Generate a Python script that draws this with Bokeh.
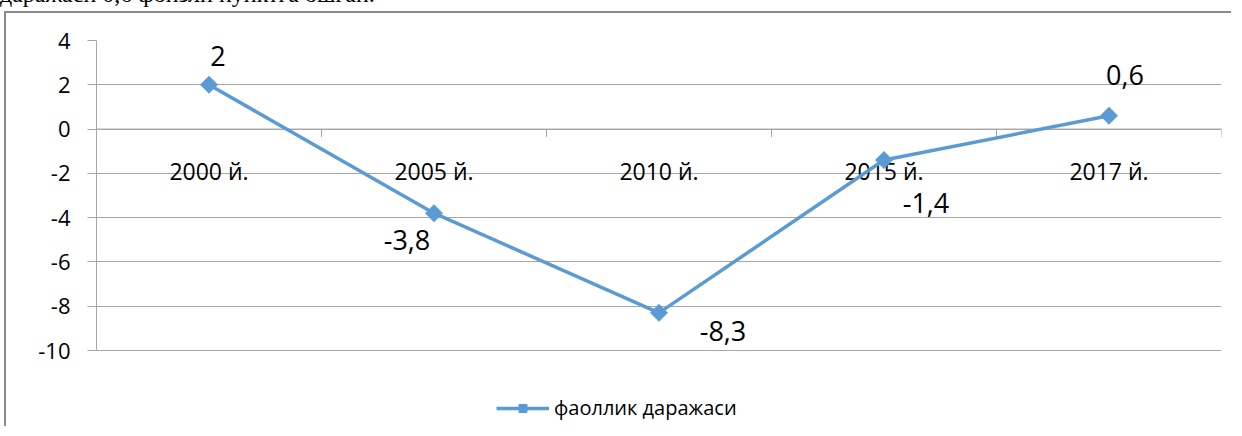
import math
from bokeh.plotting import figure
from bokeh.models import (Range1d, FixedTicker, Legend, LegendItem, Div, Column)
from bokeh.core.properties import value
from bokeh.embed import file_html
from bokeh.resources import INLINE

# ---- data ----
categories = ["2000 й.", "2005 й.", "2010 й.", "2015 й.", "2017 й."]
activity = [2.0, -3.8, -8.3, -1.4, 0.6]
value_labels = ["2", "-3,8", "-8,3", "-1,4", "0,6"]
y_ticks = [-10, -8, -6, -4, -2, 0, 2, 4]
series_name = "фаоллик даражаси"
top_text = "даражаси 0,6 фоизли пунктга ошган."

# ---- style ----
BLUE = "#5B9BD5"
GRID = "#A6A6A6"
FONT = "Open Sans"
label_dx = [9, -27, 64, 42, 16]
label_dy = [-29, 27, 18, 43, -41]

W, H = 1227, 415
FRAME_TOP = 27          # px from canvas top to the "4" gridline
PLOT_H = 310            # px between the "4" and "-10" gridlines
x_pos = [i + 0.5 for i in range(len(categories))]
ymin, ymax = min(y_ticks), max(y_ticks)
px_per_unit = PLOT_H / (ymax - ymin)
y_start = ymax - (H - FRAME_TOP) / px_per_unit

p = figure(width=W, height=H,
           x_range=Range1d(0, len(categories)), y_range=Range1d(y_start, ymax),
           output_backend="svg", toolbar_location=None,
           x_axis_location=None,
           min_border_left=90, min_border_right=12,
           min_border_top=FRAME_TOP, min_border_bottom=0,
           styles={"border-left": "2px solid #8a8a8a", "border-top": "2px solid #8a8a8a",
                   "margin-left": "4px"})
p.outline_line_color = None
p.background_fill_color = "white"
p.border_fill_color = "white"

# y axis
ax = p.yaxis[0]
ax.ticker = FixedTicker(ticks=y_ticks)
ax.bounds = (ymin, ymax)
ax.major_label_overrides = {t: str(t) for t in y_ticks}
ax.axis_line_color = GRID
ax.major_tick_line_color = GRID
ax.major_tick_out = 9
ax.major_tick_in = 0
ax.minor_tick_line_color = None
ax.major_label_standoff = 17
ax.major_label_text_font = FONT
ax.major_label_text_font_size = "22px"
ax.major_label_text_color = "black"

p.xgrid.visible = False
p.ygrid.ticker = FixedTicker(ticks=y_ticks)
p.ygrid.grid_line_color = GRID
p.ygrid.grid_line_width = 1

# category axis drawn along y = 0
n = len(categories)
p.segment(x0=[0], y0=[0], x1=[n], y1=[0], line_color=GRID, line_width=1)
tick_len = 8 / px_per_unit
p.segment(x0=list(range(n + 1)), y0=[0] * (n + 1), x1=list(range(n + 1)),
          y1=[-tick_len] * (n + 1), line_color=GRID, line_width=1)
p.text(x=x_pos, y=[0] * n, text=categories, y_offset=42,
       text_align="center", text_baseline="middle",
       text_font=value(FONT), text_font_size="23px", text_color="black")

# series
line_r = p.line(x_pos, activity, line_color=BLUE, line_width=3.5, line_join="round")
mark_r = p.scatter(x_pos, activity, marker="square", size=12, angle=math.pi / 4,
                   fill_color=BLUE, line_color=BLUE)

# data labels
p.text(x=x_pos, y=activity, text=value_labels, x_offset=label_dx, y_offset=label_dy,
       text_align="center", text_baseline="middle",
       text_font=value(FONT), text_font_size="27px", text_color="black")

legend = Legend(items=[LegendItem(label=series_name, renderers=[line_r, mark_r])],
                location=(400, 7), orientation="horizontal",
                glyph_width=53, glyph_height=20, label_standoff=5,
                padding=0, margin=0, spacing=0,
                border_line_color=None, background_fill_alpha=0,
                label_text_font=FONT, label_text_font_size="20px",
                label_text_color="black")
p.add_layout(legend)

div = Div(text=('<div style="position:relative; top:-24px; left:-5px; '
                'font-family:\'Liberation Serif\'; font-size:24px; line-height:27px; '
                'white-space:nowrap; color:black;">' + top_text + '</div>'),
          width=1226, height=1, styles={"overflow": "visible"})

layout = Column(children=[div, p], spacing=0)

open("out.html", "w").write(file_html(layout, INLINE))
